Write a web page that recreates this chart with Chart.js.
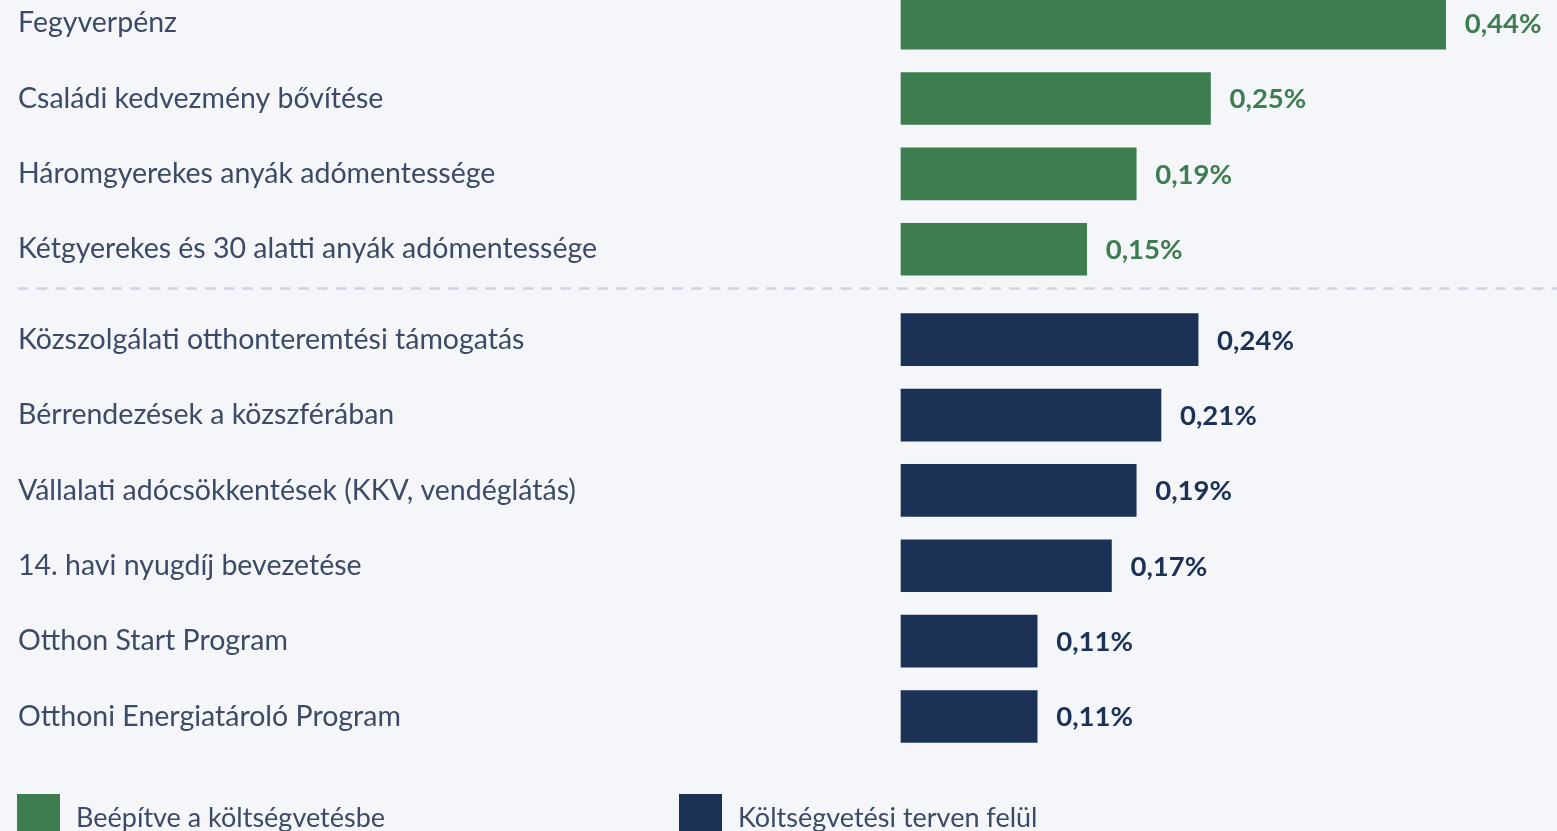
<!DOCTYPE html>
<html>
<head>
<meta charset="utf-8">
<script src="https://cdn.jsdelivr.net/npm/chart.js@4"></script>
<style>
  html, body { margin:0; padding:0; background:#f4f6fa; }
  #wrap { position:relative; width:1557px; height:831px; overflow:hidden; background:#f4f6fa; }
  canvas { position:absolute; left:0; top:0; }
  .leg { position:absolute; top:794px; height:43px; display:flex; align-items:flex-start; font-family:Lato, sans-serif; font-size:27px; color:#3d4a66; }
  .leg .sw { width:43px; height:43px; margin-right:16px; }
  .leg span { line-height:46px; }
</style>
</head>
<body>
<div id="wrap">
  <canvas id="c" width="1557" height="831"></canvas>
  <div class="leg" style="left:17px"><div class="sw" style="background:#3e7d50"></div><span id="l1"></span></div>
  <div class="leg" style="left:679px"><div class="sw" style="background:#1b3156"></div><span id="l2"></span></div>
</div>
<script>
const builtInLabels = ["Fegyverpénz", "Családi kedvezmény bővítése", "Háromgyerekes anyák adómentessége", "Kétgyerekes és 30 alatti anyák adómentessége"];
const builtInValues = [0.44, 0.25, 0.19, 0.15];
const extraLabels = ["Közszolgálati otthonteremtési támogatás", "Bérrendezések a közszférában", "Vállalati adócsökkentések (KKV, vendéglátás)", "14. havi nyugdíj bevezetése", "Otthon Start Program", "Otthoni Energiatároló Program"];
const extraValues = [0.24, 0.21, 0.19, 0.17, 0.11, 0.11];
const seriesNames = ["Beépítve a költségvetésbe", "Költségvetési terven felül"];

document.getElementById('l1').textContent = seriesNames[0];
document.getElementById('l2').textContent = seriesNames[1];

const GREEN = '#3e7d50', NAVY = '#1b3156';
const GROUP_GAP = 0.2;
const allLabels = builtInLabels.concat(extraLabels);
const posOf = i => i + (i >= builtInLabels.length ? GROUP_GAP : 0);
const positions = allLabels.map((_, i) => posOf(i));

const d1 = builtInValues.map((v, i) => ({x: v, y: posOf(i)}));
const d2 = extraValues.map((v, i) => ({x: v, y: posOf(i + builtInLabels.length)}));

const fmt = v => v.toFixed(2).replace('.', ',') + '%';

const valuePlugin = {
  id: 'vals',
  afterDatasetsDraw(chart) {
    const ctx = chart.ctx;
    ctx.save();
    ctx.font = 'bold 27.5px Lato, sans-serif';
    ctx.textBaseline = 'middle';
    ctx.textAlign = 'left';
    chart.data.datasets.forEach((ds, di) => {
      const meta = chart.getDatasetMeta(di);
      meta.data.forEach((bar, i) => {
        ctx.fillStyle = ds.backgroundColor;
        ctx.fillText(fmt(ds.data[i].x), bar.x + 19, bar.y + 1);
      });
    });
    ctx.restore();
  },
  beforeDatasetsDraw(chart) {
    const ctx = chart.ctx;
    const y = chart.scales.y;
    const sepVal = posOf(builtInLabels.length - 1) + 0.52;
    const py = Math.round(y.getPixelForValue(sepVal)) + 0.5;
    ctx.save();
    ctx.strokeStyle = '#cdd5e2';
    ctx.lineWidth = 2.5;
    ctx.setLineDash([10.5, 8.2]);
    ctx.beginPath();
    ctx.moveTo(18, py);
    ctx.lineTo(chart.width, py);
    ctx.stroke();
    ctx.restore();
  }
};

new Chart(document.getElementById('c'), {
  type: 'bar',
  data: {
    datasets: [
      { label: seriesNames[0], data: d1, backgroundColor: GREEN, barThickness: 52, grouped: false, clip: false },
      { label: seriesNames[1], data: d2, backgroundColor: NAVY, barThickness: 52, grouped: false, clip: false }
    ]
  },
  options: {
    indexAxis: 'y',
    responsive: false,
    animation: false,
    layout: { padding: { left: 18, right: 37, top: 2, bottom: 96 } },
    plugins: { legend: { display: false }, tooltip: { enabled: false } },
    scales: {
      x: { type: 'linear', min: 0, max: 0.5, display: false },
      y: {
        type: 'linear', reverse: true, offset: false, min: -0.08, max: 9.445,
        afterBuildTicks(scale) { scale.ticks = positions.map(v => ({value: v})); },
        afterFit(scale) { scale.width = 883; },
        grid: { display: false, drawTicks: false },
        border: { display: false },
        ticks: {
          crossAlign: 'far',
          padding: 0,
          autoSkip: false,
          color: '#3d4a66',
          font: { family: 'Lato, sans-serif', size: 28.5 },
          callback: (v, i) => allLabels[i]
        }
      }
    }
  },
  plugins: [valuePlugin]
});
</script>
</body>
</html>
